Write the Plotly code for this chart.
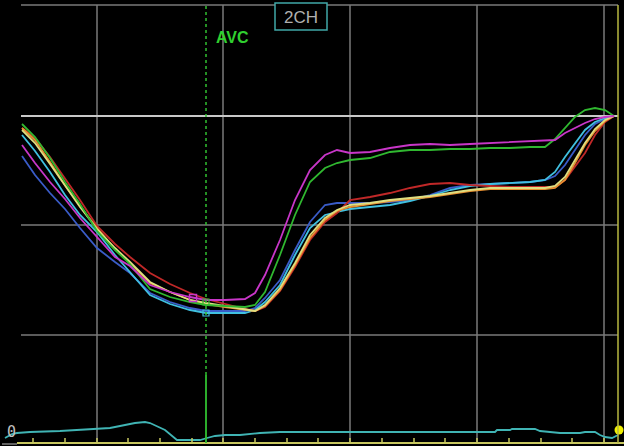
import plotly.graph_objects as go

# time samples (arbitrary units)
t = [22, 35, 50, 65, 80, 97, 115, 130, 150, 170, 190, 206, 225, 245, 255, 265, 280, 295, 310, 325,
     337, 350, 370, 390, 410, 430, 450, 470, 490, 510, 530, 545, 555, 565, 575, 585, 595, 605, 614]

# volume curves (arbitrary units)
vol_green = [319, 306, 285, 261, 239, 212, 193, 179, 154, 146, 141, 138, 137, 136, 138, 151, 188, 228, 261, 275,
             280, 283, 285, 291, 293, 293, 294, 294, 295, 295, 296, 296, 304, 315, 326, 333, 335, 333, 327]
vol_magenta = [298, 280, 261, 244, 225, 206, 186, 177, 158, 151, 146, 143, 143, 144, 150, 168, 203, 243, 273, 288,
               293, 290, 291, 295, 298, 299, 298, 299, 300, 301, 302, 303, 303, 310, 315, 320, 324, 326, 327]
vol_blue = [287, 268, 250, 234, 215, 195, 181, 170, 150, 141, 135, 132, 132, 132, 135, 145, 163, 193, 221, 238,
            240, 240, 240, 241, 243, 248, 255, 258, 259, 260, 261, 263, 267, 278, 293, 308, 319, 324, 327]
vol_cyan = [308, 292, 271, 248, 228, 211, 188, 171, 148, 139, 133, 130, 130, 130, 133, 141, 158, 188, 215, 228,
            231, 234, 236, 238, 242, 247, 253, 257, 259, 260, 261, 263, 271, 286, 300, 313, 321, 325, 327]
vol_yellow = [313, 300, 279, 257, 236, 214, 195, 181, 161, 151, 143, 140, 137, 134, 132, 138, 155, 180, 208, 225,
              233, 238, 240, 243, 245, 247, 250, 253, 255, 255, 255, 255, 257, 266, 283, 300, 314, 323, 327]
vol_orange = [315, 303, 281, 258, 237, 215, 194, 180, 160, 151, 143, 139, 136, 133, 132, 137, 153, 178, 205, 223,
              232, 236, 239, 242, 244, 246, 249, 252, 254, 254, 254, 254, 255, 263, 280, 298, 312, 322, 327]
vol_red = [315, 305, 286, 265, 243, 217, 199, 186, 170, 159, 150, 144, 139, 134, 132, 136, 152, 176, 203, 221,
           230, 243, 246, 250, 255, 259, 260, 258, 257, 256, 256, 256, 256, 263, 276, 290, 308, 321, 327]

# bottom waveform
t_wave = [5, 12, 17, 30, 60, 93, 110, 120, 135, 145, 150, 165, 177, 190, 200, 207, 215, 225, 240, 260, 280, 320,
          495, 497, 510, 512, 535, 540, 560, 580, 585, 595, 600, 605, 612, 618]
wave = [5, 9, 10, 11, 12, 14, 15, 17, 20, 21, 20, 13, 3, 3, 3, 5, 7, 8, 8, 10, 11, 11,
        11, 13, 13, 14, 14, 12, 10, 10, 11, 11, 8, 6, 5, 8]

# grid / axis positions
grid_x = [97, 223, 350, 477, 604]
grid_y = [108, 218, 438]
ref_y = 327
tick_x = [33, 65, 97, 128, 160, 192, 223, 255, 287, 318, 350, 382, 414, 445, 477, 509, 541, 572, 604]
avc_t = 206
avc_split = 68

series = [
    (vol_blue, "#3a5cc8"),
    (vol_cyan, "#40c0e0"),
    (vol_red, "#c02828"),
    (vol_orange, "#e89030"),
    (vol_yellow, "#dede80"),
    (vol_green, "#30b830"),
    (vol_magenta, "#c836c8"),
]

fig = go.Figure()
shapes = []
grey = "#7a7a7a"
for gx in grid_x:
    shapes.append(dict(type="line", xref="x", yref="y", x0=gx, x1=gx, y0=0, y1=438,
                       line=dict(color=grey, width=1.5), layer="below"))
for gy in grid_y:
    shapes.append(dict(type="line", xref="x", yref="y", x0=21, x1=618, y0=gy, y1=gy,
                       line=dict(color=grey, width=1.5), layer="below"))
shapes.append(dict(type="line", xref="x", yref="y", x0=21, x1=618, y0=ref_y, y1=ref_y,
                   line=dict(color="#c8c8c8", width=1.8), layer="below"))
# bottom axis
shapes.append(dict(type="line", xref="x", yref="y", x0=17, x1=624, y0=0, y1=0,
                   line=dict(color="#c8c860", width=2)))
shapes.append(dict(type="line", xref="x", yref="y", x0=2, x1=17, y0=-1, y1=-1,
                   line=dict(color="#606060", width=2)))
for tx in tick_x:
    shapes.append(dict(type="line", xref="x", yref="y", x0=tx, x1=tx, y0=0, y1=5,
                       line=dict(color="#c8c860", width=1.5)))
# right border
shapes.append(dict(type="line", xref="x", yref="y", x0=618, x1=618, y0=0, y1=438,
                   line=dict(color="#b8b840", width=1.5)))
# AVC marker
shapes.append(dict(type="line", xref="x", yref="y", x0=avc_t, x1=avc_t, y0=avc_split, y1=438,
                   line=dict(color="#30c030", width=1.5, dash="3px,3px")))
shapes.append(dict(type="line", xref="x", yref="y", x0=avc_t, x1=avc_t, y0=0, y1=avc_split,
                   line=dict(color="#30c030", width=1.8)))
# 2CH box
shapes.append(dict(type="rect", xref="x", yref="y", x0=275, x1=327, y0=413, y1=440,
                   line=dict(color="#40a8a8", width=1.5), fillcolor="black"))

fig.add_trace(go.Scatter(x=t_wave, y=wave, mode="lines",
                         line=dict(color="#40b4b4", width=1.8), hoverinfo="skip"))
for vals, col in series:
    fig.add_trace(go.Scatter(x=t, y=vals, mode="lines", line=dict(color=col, width=1.8),
                             hoverinfo="skip"))

# frame markers near AVC
fig.add_trace(go.Scatter(x=[193], y=[145], mode="markers",
                         marker=dict(symbol="square-open", size=7, color="#c836c8", line=dict(width=1.5))))
fig.add_trace(go.Scatter(x=[206, 206], y=[141, 130], mode="markers",
                         marker=dict(symbol="square-open", size=6, color=["#30b830", "#40c0e0"],
                                     line=dict(width=1.2))))
fig.add_trace(go.Scatter(x=[619], y=[13], mode="markers",
                         marker=dict(size=9, color="#f0f000")))

annotations = [
    dict(x=232, y=406, xref="x", yref="y", text="<b>AVC</b>", showarrow=False,
         font=dict(family="Liberation Sans, Arial", size=16, color="#30d030")),
    dict(x=301, y=426, xref="x", yref="y", text="2CH", showarrow=False,
         font=dict(family="Liberation Sans, Arial", size=17, color="#b0b0b0")),
    dict(x=11, y=11, xref="x", yref="y", text="0", showarrow=False,
         font=dict(family="DejaVu Sans Mono, monospace", size=15, color="#c0c0c0")),
]

fig.update_layout(
    width=624, height=446,
    margin=dict(l=0, r=0, t=0, b=0),
    paper_bgcolor="black", plot_bgcolor="black",
    showlegend=False,
    shapes=shapes, annotations=annotations,
    xaxis=dict(range=[0, 624], visible=False, fixedrange=True),
    yaxis=dict(range=[-3, 443], visible=False, fixedrange=True),
)

fig.write_html("out.html")
